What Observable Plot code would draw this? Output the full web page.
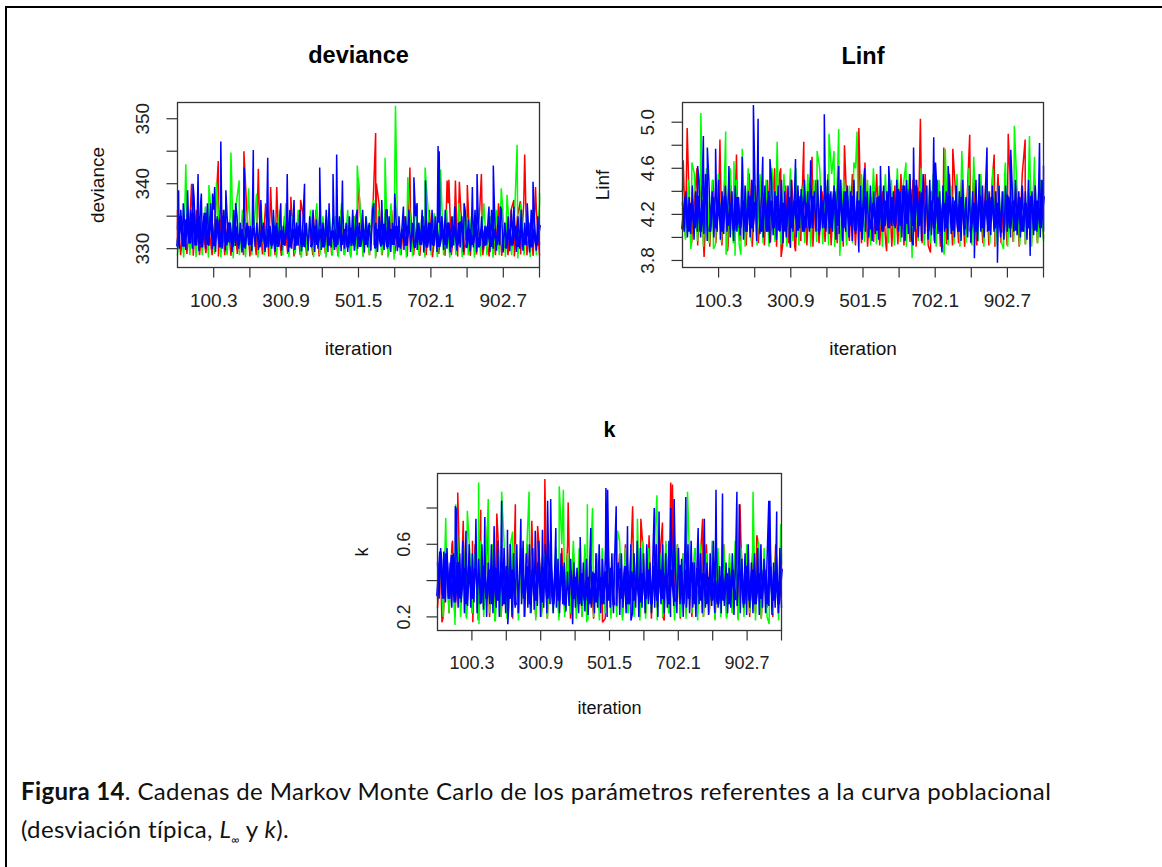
<!DOCTYPE html>
<html><head><meta charset="utf-8">
<script src="https://cdn.jsdelivr.net/npm/d3@7"></script>
<script src="https://cdn.jsdelivr.net/npm/@observablehq/plot@0.6"></script>
<style>
html,body{margin:0;background:#fff;width:1162px;height:867px;overflow:hidden}
#box{position:absolute;left:5px;top:6px;width:1157px;height:861px;border-top:2px solid #000;border-left:2px solid #000;box-sizing:border-box}
.p{position:absolute}
#cap{position:absolute;left:21px;top:772px;font-family:Lato,"Open Sans",sans-serif;font-size:24px;letter-spacing:.37px;line-height:37.5px;color:#111;white-space:nowrap}
</style></head><body>
<div id="box"></div>
<div id="c1" class="p"></div><div id="c2" class="p"></div><div id="c3" class="p"></div>
<div id="cap"><b>Figura 14</b>. Cadenas de Markov Monte Carlo de los parámetros referentes a la curva poblacional<br>(desviación típica, <i>L<sub style="font-size:12px;line-height:0">∞</sub></i> y <i>k</i>).</div>
<script>
const xTicks=[100.3,200.6,300.9,401.2,501.5,601.8,702.1,802.4,902.7,1003];
const xLabels=["100.3","","300.9","","501.5","","702.1","","902.7",""];

// deviance
const devRed=[331,329,334,329.2,335,328.9,336,329,334,329.3,333,329,335,328.8,336,329,334,328.9,335,329.2,333,329,336,328.8,334,329,335,329.1,337,328.8,334,329,333,328.9,335,329.2,336,328.8,334,329,335,328.9,333,329,336,328.8,334,329.2,335,329,333,328.9,336,329,334,328.8,335,329.1,336,328.9,334,329,335,328.8,337,329,334,328.9,336,329.2,333,329,335,328.8,336,329,334,328.9,335,329,336,328.7,333,329.2,335,328.9,337,329,334,328.8,336,329,335,328.9,334,329.1,336,329,333,328.8,335,329,337,328.9,334,329,336,328.8,335,329.1,337,329,334,328.9,336,329];
const devRedIter=[0,39,113,184,224,258,275,314,341,501,549,551,644,747,752,770,781,803,842,932,950,962,992];
const devRedVal=[336,340,343.5,345,342.3,339.5,339.5,338,337.5,340.8,347.8,340,342.5,340.5,340.6,340.5,340.3,339.8,341.5,337.5,337.3,344.5,339.5];
const devGreen=[329,335,328.6,336,329,337,328.7,335,329,336.5,328.6,335,329.2,337,328.7,336,329,335,328.5,337,329,336,328.7,338,329,335,328.6,337,329,336,328.8,335,328.6,336,329,337,328.7,335,329.1,336,328.6,334,329,336,328.7,337,329,335,328.6,336,328.9,335,328.7,337,329,336,328.6,335,329,336.5,328.7,335,329,337,328.5,336,329,335,328.6,337,328.3,336,329,335,328.6,336,328.8,337,329,335,328.6,336,329,335.5,328.7,337,329,336,328.6,335,329,337,328.7,336,329,335,328.6,336,328.8,337,329,335,328.6,336,329,337,328.7,335,329,336,328.5,337,329,335,328.7,336,329,337];
const devGreenIter=[23,87,108,148,150,171,197,219,498,544,575,602,604,638,686,729,897,913,941,1003];
const devGreenVal=[343,339.8,340.2,344.8,341.2,340.5,339.3,338.5,342.8,337.5,344,341.7,352,341,342.5,342.2,339.3,338.3,346,338.5];
const devBlue=[333,330,336,330.5,335,329.8,337,331,336,330,338,330.5,336,329.6,337,331,335,330,336.5,330.4,337,330,336,329.5,335,330.8,337,330,336,329.7,335,331,334,329.5,336,330.4,335,330,334,329.4,335,330,334,330.5,333.5,329.6,335,330.3,334,329.8,336,331,334,329.5,335,330.2,333.5,330,336,329.5,334,330.6,335,329.7,333.5,330.4,334,329.5,336,330,335,329.8,334,330.5,336,329.6,335,330.2,334,329.7,335,330.8,336,329.5,334.5,330,335,329.8,334,330.5,336,329.5,334,330.2,335,329.8,333.5,330.6,335,329.6,336,330,334,329.5,335,330.4,336,329.7,335,330,334,330.6,336,329.4,335,330.2,334,329.7,336,330.5,334,329.5,335,330.3,333.5,329.8,336,330,335,329.5,334,330.7,336,329.6,335,330,334,329.8,335,330.5,336,329.5,334,330.3,335,329.8,334,330.6,336,329.4,335,330.2,334,329.7,336,330.4,335,329.5,334,330.6,335,329.8,336,330,334,329.4,335,330.5,336,329.7,334,330.2,335,329.5,336,330.8,334.5,329.6,335,330.2,336,329.5,334,330.4,335,329.8,333.5,330.6,335,329.5,336,330,334,329.7,335,330.5,336,329.4,334,330.2,335,329.6,336,330.8,334,329.5,335,330,336,329.7,334,330.5,335,329.4,336,330.2,334,329.7,335,330.6];
const devBlueIter=[3,16,28,43,57,66,83,97,103,120,134,161,185,210,231,250,286,304,323,352,394,420,431,441,457,498,544,566,581,602,626,655,664,687,722,725,768,794,817,830,863,875,895,932,969,985];
const devBlueVal=[339,337,339,340,341.5,338.5,337,338.5,339.5,346.5,339,337,342.5,345.2,337.5,344,337,341.5,337.5,340,342.5,337,341.5,344.5,340.5,336,337,337.5,336,338.5,336.5,341,337,340.5,345.8,345,336.5,337,339.5,341.5,336.5,342.8,336.5,336.5,337,340.3];
const devBlueCore=[330.5,335,330.3,334.5,330.8,335.5,330.5,335,330.2,335.5,330.6,335,330.4,334.5,330.2,335,330.5,334,330.3,333.5,330.5,333,330.2,333.5,330.6,333,null,330.4,333.5,330.2,333,330.5,333.5,330.3,332.8,330.6,333.5,330.2,333,330.5,333.5,330.3,333,null,330.4,333.5,330.6,333,330.2,333.5,330.5,332.8,330.3,333.5,330.6,333,330.2,333.2,330.5,333.5,330.3,333,330.6,333.5,null,330.2,333,330.5,333.8,330.3,333,330.6,333.5,330.2,333,330.5,333.5,null,330.3,333,330.6,333.5,330.2,334,330.5,333.5,330.3,333,330.6,334,330.2,333.5,330.5,334,null,330.3,333,330.6,333.5,330.2,333,330.5,333.5,330.3,333,330.6,333.5,null,330.2,333,330.5,333.5,330.3,333,330.6,333.5,330.2,333,330.5,333.5];

// Linf
const linfRed=[4.4,4,4.5,3.95,4.35,3.93,4.55,3.9,4.4,3.92,4.5,3.95,4.4,3.93,4.55,3.92,4.45,3.95,4.4,3.97,4.5,3.93,4.55,3.92,4.45,3.95,4.35,3.93,4.5,3.96,4.4,3.92,4.55,3.93,4.45,3.95,4.5,3.92,4.4,3.97,4.55,3.93,4.45,3.92,4.5,3.95,4.4,3.96,4.55,3.93,4.45,3.95,4.5,3.92,4.4,3.97,4.55,3.93,4.45,3.95,4.5,3.92,4.35,3.96,4.55,3.93,4.4,3.95,4.5,3.92,4.45,3.94,4.55,3.93,4.4,3.96,4.5,3.92,4.45,3.95,4.55,3.93,4.4,3.97,4.5,3.92,4.45,3.94,4.55,3.93,4.4,3.95,4.5,3.92,4.45,3.96,4.55,3.93,4.4,3.95,4.5,3.93,4.45,3.92,4.55,3.95,4.4,3.93,4.5,3.96,4.45,3.92,4.55,3.94,4.4,3.93,4.5,3.95,4.45,4];
const linfRedIter=[2,13,40,60,104,125,150,185,256,273,274,314,337,360,450,490,507,567,661,689,726,751,798,866,905,952];
const linfRedVal=[4.67,4.95,4.6,3.83,4.85,3.88,4.72,4.55,4.6,4.6,3.83,3.88,4.83,4.7,4.8,4.95,4.65,3.88,5.03,3.87,4.78,4.77,4.89,4.72,4.9,4.85];
const linfGreen=[4.25,3.98,4.5,3.94,4.55,3.97,4.45,3.92,4.6,3.95,4.5,3.93,4.55,3.96,4.45,3.92,4.6,3.95,4.5,3.94,4.55,3.92,4.6,3.97,4.45,3.93,4.55,3.95,4.5,3.92,4.6,3.96,4.45,3.94,4.55,3.92,4.5,3.97,4.6,3.93,4.45,3.95,4.55,3.92,4.5,3.96,4.6,3.94,4.45,3.93,4.55,3.92,4.6,3.97,4.5,3.93,4.45,3.95,4.6,3.92,4.55,3.96,4.5,3.93,4.6,3.94,4.45,3.92,4.55,3.95,4.5,3.93,4.6,3.96,4.45,3.92,4.55,3.94,4.5,3.97,4.6,3.93,4.45,3.95,4.55,3.92,4.5,3.96,4.6,3.93,4.45,3.94,4.55,3.92,4.5,3.95,4.6,3.93,4.45,3.96,4.55,3.92,4.5,3.94,4.6,3.93,4.45,3.95,4.55,3.92,4.6,3.96,4.5,3.93,4.45,3.94,4.55,3.92,4.6,3.95,4.5,3.97];
const linfGreenIter=[23,26,51,86,120,121,143,146,162,166,263,300,374,407,421,434,437,476,485,621,638,727,730,776,809,892,897,922,964,978];
const linfGreenVal=[3.9,4.65,5.08,3.9,4.92,3.85,4.66,3.84,3.85,4.77,4.83,4.6,4.75,4.9,4.75,4.94,3.84,4.65,4.92,4.65,3.82,3.85,4.77,4.75,4.7,3.9,4.65,4.97,4.88,4.7];
const linfBlue=[4.3,4.05,4.4,4,4.35,4.03,4.45,3.98,4.4,4.05,4.5,4,4.45,4.03,4.55,3.97,4.5,4.05,4.4,4,4.45,4.05,4.5,3.98,4.4,4.03,4.45,4.05,4.5,4,4.4,3.97,4.45,4.05,4.35,4.02,4.5,3.98,4.45,4.05,4.4,4,4.5,4.05,4.45,3.97,4.55,4.03,4.4,4,4.45,4.05,4.4,3.95,4.5,4.02,4.4,3.98,4.45,4.05,4.5,3.95,4.4,4,4.45,3.97,4.5,4.05,4.4,4,4.45,4.08,4.42,4.05,4.5,4.08,4.4,4.05,4.45,4.08,4.4,4.05,4.5,4.02,4.45,4.08,4.4,4.05,4.5,4.03,4.4,4.05,4.45,3.98,4.4,4.03,4.5,3.97,4.4,4.05,4.45,4,4.4,3.97,4.5,4.03,4.4,4,4.45,3.98,4.5,4.05,4.4,4,4.45,3.97,4.4,4.03,4.35,3.98,4.4,4.08,4.45,4.1,4.4,4.12,4.42,4.1,4.4,4.08,4.5,4.05,4.4,4,4.45,3.97,4.5,4.03,4.55,3.98,4.45,4.05,4.5,4,4.4,3.97,4.55,4.03,4.45,3.98,4.5,4.02,4.4,3.95,4.5,4.03,4.4,3.97,4.45,4.05,4.4,3.98,4.45,4.03,4.35,4,4.45,4.05,4.4,3.97,4.5,4.02,4.35,4,4.45,3.95,4.4,4.03,4.5,3.97,4.55,4.05,4.45,4,4.5,4.05,4.4,4.02,4.45,4.05,4.4,4.03,4.45,4,4.4,3.98,4.45,4.05,4.35,4,4.45,4.05,4.5,4.02,4.4,4,4.45,4.05,4.4,3.98,4.5,4.05,4.4,4.02,4.45,4.05,4.4,4,4.5,4.05];
const linfBlueIter=[42,58,69,92,129,166,197,210,223,243,300,314,356,394,434,490,506,550,573,641,642,698,703,721,738,811,846,875,912,966,992,1003];
const linfBlueVal=[4.62,4.88,4.78,4.77,4.62,4.7,5.15,5.03,4.7,4.68,3.91,4.68,4.67,5.07,4.62,3.87,4.6,4.62,4.62,3.93,4.78,4.87,4.65,3.87,4.62,3.82,4.78,3.78,4.76,3.84,4.82,4.62];
const linfBlueCore=[4.08,4.35,4.05,4.3,4.08,4.36,4.05,4.32,null,4.06,4.35,4.08,4.3,4.05,4.36,4.1,4.3,4.06,4.35,4.08,4.32,4.05,4.36,4.08,4.3,null,4.06,4.35,4.05,4.32,4.08,4.36,4.06,4.3,4.05,4.35,4.08,4.32,4.06,4.36,4.05,4.3,4.08,4.35,null,4.06,4.32,4.08,4.38,4.08,4.4,4.1,4.38,4.08,4.4,4.1,4.36,4.06,4.32,4.05,4.35,null,4.08,4.3,4.06,4.36,4.05,4.32,4.08,4.35,4.1,4.42,4.1,4.45,4.12,4.42,4.1,4.45,4.1,4.38,null,4.06,4.32,4.08,4.35,4.05,4.3,4.08,4.36,4.06,4.32,4.05,4.35,4.08,null,4.06,4.3,4.05,4.36,4.08,4.32,4.06,4.35,4.08,4.3,4.05,null,4.36,4.08,4.32,4.06,4.35,4.05,4.3,4.08,4.36,4.06,4.32,4.08,4.35];

// k
const kRed=[0.25,0.5,0.2,0.55,0.22,0.6,0.2,0.5,0.25,0.62,0.2,0.55,0.22,0.6,0.19,0.5,0.25,0.58,0.2,0.55,0.22,0.62,0.2,0.5,0.24,0.6,0.19,0.55,0.22,0.58,0.2,0.6,0.25,0.5,0.2,0.62,0.22,0.55,0.19,0.6,0.24,0.5,0.2,0.58,0.22,0.6,0.19,0.55,0.25,0.5,0.2,0.55,0.22,0.48,0.19,0.55,0.25,0.5,0.19,0.55,0.22,0.5,0.25,0.55,0.2,0.6,0.22,0.58,0.25,0.5,0.2,0.6,0.22,0.55,0.19,0.62,0.25,0.55,0.2,0.6,0.22,0.5,0.25,0.6,0.19,0.55,0.22,0.5,0.2,0.58,0.25,0.55,0.2,0.6,0.22,0.5,0.19,0.55,0.25,0.6,0.2,0.5,0.22,0.55,0.19,0.6,0.25,0.5,0.2,0.55,0.22,0.6,0.19,0.5,0.25,0.55,0.2,0.6,0.22,0.5];
const kRedIter=[13,44,59,75,102,103,126,146,173,227,275,292,313,381,481,569,593,617,656,661,680,685,773,882,931];
const kRedVal=[0.17,0.62,0.885,0.73,0.62,0.17,0.79,0.7,0.77,0.82,0.73,0.7,0.96,0.83,0.17,0.81,0.74,0.65,0.72,0.18,0.94,0.93,0.74,0.82,0.65];
const kGreen=[0.3,0.5,0.2,0.6,0.22,0.55,0.18,0.62,0.2,0.58,0.19,0.6,0.22,0.55,0.18,0.62,0.2,0.58,0.22,0.6,0.18,0.55,0.2,0.62,0.19,0.58,0.22,0.6,0.18,0.55,0.2,0.62,0.22,0.58,0.18,0.6,0.2,0.55,0.19,0.62,0.22,0.58,0.18,0.6,0.2,0.55,0.22,0.62,0.19,0.58,0.2,0.6,0.18,0.52,0.2,0.55,0.18,0.58,0.22,0.6,0.19,0.55,0.2,0.62,0.18,0.58,0.22,0.6,0.2,0.55,0.18,0.62,0.19,0.58,0.22,0.6,0.18,0.55,0.2,0.62,0.22,0.58,0.18,0.6,0.2,0.55,0.19,0.62,0.22,0.58,0.18,0.6,0.2,0.55,0.22,0.62,0.18,0.58,0.2,0.6,0.19,0.55,0.22,0.62,0.18,0.58,0.2,0.6,0.22,0.55,0.18,0.62,0.19,0.58,0.2,0.6,0.22,0.55,0.18,0.5];
const kGreenIter=[24,51,53,87,120,121,148,167,187,219,267,355,367,435,437,452,525,583,640,729,920,967,1001];
const kGreenVal=[0.745,0.156,0.82,0.785,0.94,0.16,0.85,0.175,0.89,0.67,0.89,0.92,0.9,0.17,0.82,0.8,0.675,0.74,0.87,0.89,0.89,0.16,0.71];
const kBlue=[0.5,0.3,0.58,0.32,0.56,0.28,0.58,0.3,0.5,0.25,0.55,0.3,0.6,0.25,0.55,0.28,0.62,0.22,0.58,0.26,0.6,0.25,0.55,0.28,0.6,0.22,0.52,0.27,0.6,0.24,0.55,0.2,0.5,0.27,0.6,0.22,0.55,0.25,0.62,0.2,0.52,0.26,0.58,0.22,0.5,0.27,0.6,0.2,0.55,0.25,0.6,0.22,0.52,0.27,0.62,0.2,0.55,0.25,0.6,0.22,0.58,0.24,0.5,0.26,0.62,0.2,0.55,0.25,0.6,0.22,0.55,0.27,0.5,0.22,0.48,0.25,0.52,0.22,0.55,0.27,0.5,0.23,0.45,0.26,0.52,0.22,0.5,0.25,0.47,0.22,0.55,0.26,0.5,0.23,0.52,0.21,0.5,0.25,0.45,0.22,0.55,0.25,0.6,0.22,0.52,0.27,0.58,0.2,0.5,0.25,0.55,0.22,0.6,0.26,0.5,0.21,0.55,0.25,0.45,0.22,0.52,0.27,0.6,0.22,0.55,0.25,0.62,0.2,0.58,0.25,0.55,0.22,0.6,0.27,0.5,0.22,0.58,0.25,0.6,0.2,0.52,0.27,0.6,0.22,0.55,0.25,0.62,0.2,0.55,0.26,0.5,0.22,0.58,0.27,0.52,0.2,0.55,0.25,0.6,0.22,0.62,0.25,0.5,0.2,0.58,0.27,0.55,0.22,0.6,0.25,0.5,0.21,0.55,0.26,0.62,0.22,0.58,0.25,0.48,0.22,0.45,0.26,0.5,0.22,0.47,0.25,0.55,0.21,0.5,0.26,0.45,0.22,0.52,0.25,0.55,0.21,0.6,0.25,0.5,0.22,0.55,0.27,0.58,0.21,0.6,0.25,0.52,0.22,0.55,0.26,0.6,0.21,0.5,0.25,0.55,0.22,0.58,0.25];
const kBlueIter=[52,55,83,112,138,165,187,204,205,243,285,306,321,330,345,394,416,447,491,496,521,554,564,632,646,680,690,724,760,778,812,831,873,880,966,969,989];
const kBlueVal=[0.81,0.79,0.675,0.74,0.75,0.7,0.84,0.68,0.16,0.74,0.675,0.68,0.84,0.85,0.69,0.16,0.64,0.69,0.91,0.9,0.81,0.7,0.18,0.8,0.78,0.8,0.85,0.86,0.69,0.74,0.9,0.88,0.89,0.82,0.84,0.84,0.78];
const kBlueCore=[0.32,0.56,0.3,0.55,0.3,0.54,0.28,0.5,0.3,0.47,0.27,0.48,0.3,0.46,null,0.28,0.48,0.3,0.46,0.27,0.47,0.29,0.45,0.27,0.48,0.3,0.46,0.27,null,0.47,0.3,0.48,0.27,0.46,0.29,0.5,0.28,0.47,0.3,0.48,0.27,0.46,0.29,0.48,0.27,null,0.45,0.3,0.42,0.27,0.44,0.29,0.42,0.27,0.44,0.28,0.42,0.27,0.45,0.29,0.47,0.27,null,0.46,0.3,0.48,0.27,0.45,0.29,0.42,0.28,0.44,0.3,0.46,0.27,0.48,0.29,0.46,0.3,0.44,0.27,0.46,0.29,null,0.48,0.27,0.46,0.3,0.5,0.27,0.47,0.29,0.44,0.27,0.42,0.29,0.4,0.27,0.42,0.29,0.44,0.27,0.46,0.3,null,0.45,0.27,0.48,0.29,0.46,0.27,0.44,0.3,0.46,0.27,0.48,0.29,0.45,0.27,0.46];

const sans='"Liberation Sans",Arial,sans-serif';
function chain(mass,iters=[],vals=[]){
  const pts=mass.map((v,i)=>({x:i*1003/(mass.length-1),y:v}));
  iters.forEach((t,i)=>pts.push({x:t,y:vals[i]}));
  return pts.sort((a,b)=>a.x-b.x);
}

function panel(el,o){
  const mL=120,mR=10,mT=70,mB=100,w=o.x1-o.x0,h=o.y1-o.y0;
  const txt=(s,extra)=>Plot.text([s],{text:d=>d,fontFamily:sans,fill:"#111",...extra});
  const yFmt=new Map(o.yTicks.map((t,i)=>[t,o.yLabels[i]]));
  const xFmt=new Map(xTicks.map((t,i)=>[t,xLabels[i]]));
  const chart=Plot.plot({
    width:mL+w+mR,height:mT+h+mB,marginLeft:mL,marginRight:mR,marginTop:mT,marginBottom:mB,
    style:{background:"transparent",fontFamily:sans,overflow:"visible"},
    x:{domain:[0,1003],axis:null},
    y:{domain:o.yDomain,axis:null},
    marks:[
      ...o.series.map(([p,c,sw])=>Plot.line(p,{x:"x",y:"y",stroke:c,strokeWidth:sw,strokeLinejoin:"bevel"})),
      Plot.frame({stroke:"#333",strokeWidth:1.3}),
      Plot.axisX(xTicks,{anchor:"bottom",tickSize:10.5,tickPadding:15,fontSize:o.fs,label:null,stroke:"#333",strokeWidth:1.2,fill:"#222",tickFormat:d=>xFmt.get(d),fontFamily:sans}),
      Plot.axisY(o.yTicks,{anchor:"left",tickSize:10.5,fontSize:o.fs,label:null,stroke:"#333",strokeWidth:1.2,text:()=>""}),
      Plot.text(o.yTicks,{y:d=>d,text:d=>yFmt.get(d),rotate:-90,frameAnchor:"left",textAnchor:"middle",dx:-o.tickOff,fontSize:o.fs,fontFamily:sans,fill:"#222"}),
      txt(o.title,{frameAnchor:"top",dy:-o.titleOff,fontSize:o.titleFs,fontWeight:"bold",lineAnchor:"middle",fill:"#000"}),
      txt("iteration",{frameAnchor:"bottom",dy:o.xlabOff,fontSize:o.fs,lineAnchor:"middle"}),
      txt(o.title,{frameAnchor:"left",textAnchor:"middle",rotate:-90,dx:-o.ylabOff,fontSize:o.fs})
    ]
  });
  el.style.left=(o.x0-mL)+"px";el.style.top=(o.y0-mT)+"px";
  el.appendChild(chart);
}

panel(document.getElementById("c1"),{x0:177,x1:539,y0:102,y1:267,title:"deviance",
  yDomain:[327.1,352.5],yTicks:[330,335,340,345,350],yLabels:["330","","340","","350"],
  series:[[chain(devRed,devRedIter,devRedVal),"#ff0000",1.5],[chain(devGreen,devGreenIter,devGreenVal),"#00ff00",1.5],[chain(devBlue,devBlueIter,devBlueVal),"#0000ff",1.5],[chain(devBlueCore),"#0000ff",2.8]],
  fs:19,titleFs:23.5,titleOff:47,xlabOff:81,tickOff:35,ylabOff:80});
panel(document.getElementById("c2"),{x0:682,x1:1043,y0:102,y1:267,title:"Linf",
  yDomain:[3.739,5.171],yTicks:[3.8,4.0,4.2,4.4,4.6,4.8,5.0],yLabels:["3.8","","4.2","","4.6","","5.0"],
  series:[[chain(linfRed,linfRedIter,linfRedVal),"#ff0000",1.5],[chain(linfGreen,linfGreenIter,linfGreenVal),"#00ff00",1.5],[chain(linfBlue,linfBlueIter,linfBlueVal),"#0000ff",1.5],[chain(linfBlueCore),"#0000ff",2.8]],
  fs:19,titleFs:23.5,titleOff:46,xlabOff:81,tickOff:35,ylabOff:80});
panel(document.getElementById("c3"),{x0:437,x1:781,y0:473,y1:630,title:"k",
  yDomain:[0.125,0.99],yTicks:[0.2,0.4,0.6,0.8],yLabels:["0.2","","0.6",""],
  series:[[chain(kRed,kRedIter,kRedVal),"#ff0000",1.5],[chain(kGreen,kGreenIter,kGreenVal),"#00ff00",1.5],[chain(kBlue,kBlueIter,kBlueVal),"#0000ff",1.5],[chain(kBlueCore),"#0000ff",2.8]],
  fs:18,titleFs:21.5,titleOff:43,xlabOff:78,tickOff:33,ylabOff:75});
</script>
</body></html>
